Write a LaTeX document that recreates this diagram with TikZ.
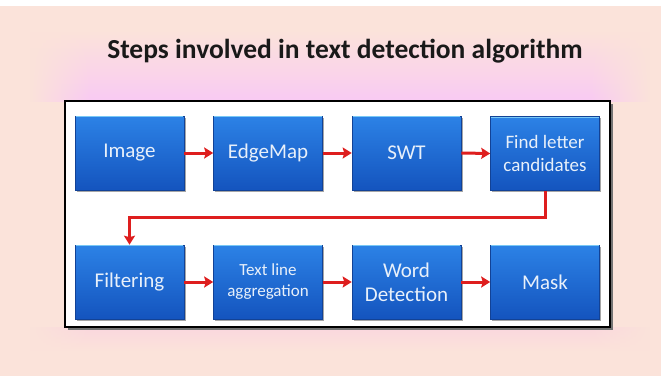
\documentclass[tikz,border=0pt]{standalone}
\usepackage{fontspec}
\setmainfont{Carlito}
\usetikzlibrary{arrows.meta,shadows,fadings}

\definecolor{peach}{RGB}{251,227,218}
\definecolor{glow}{RGB}{249,202,243}
\definecolor{lowglow}{RGB}{250,215,222}
\definecolor{boxtop}{RGB}{44,130,230}
\definecolor{boxbot}{RGB}{20,84,190}
\definecolor{boxedge}{RGB}{18,66,150}
\definecolor{boxhi}{RGB}{120,200,245}
\definecolor{arrowred}{RGB}{222,30,30}
\definecolor{boxtext}{RGB}{232,240,250}

% soft ends for the background glow
\tikzfading[name=fadein,  left color=transparent!100, right color=transparent!0]
\tikzfading[name=fadeout, left color=transparent!0,   right color=transparent!100]

\begin{document}
\begin{tikzpicture}[x=1pt,y=-1pt,
  stepbox/.style={rectangle, minimum width=109pt, minimum height=74pt,
    top color=boxtop, bottom color=boxbot, draw=boxedge, line width=0.6pt,
    text=boxtext, align=center, inner sep=2pt,
    font=\fontsize{21}{24}\selectfont,
    drop shadow={shadow xshift=1.5pt, shadow yshift=-1.5pt, fill=black, opacity=0.35}},
  smallbox/.style={stepbox, font=\fontsize{17}{21}\selectfont},
  flow/.style={draw=arrowred, line width=3pt,
    -{Stealth[length=9pt,width=11pt,inset=1.5pt]}},
  highlight/.style={draw=boxhi, line width=1.4pt},
  upglow/.style={top color=peach, bottom color=glow},
  downglow/.style={top color=lowglow, bottom color=peach}
]
\useasboundingbox (0,0) rectangle (661,376);

% page background
\fill[peach] (0,0) rectangle (661,376);
\fill[white] (0,0) rectangle (661,6);

% pink glow above the panel, in three pieces with soft ends
\shade[upglow, path fading=fadein]  (30,30) rectangle (90.5,101);
\shade[upglow]                      (90,30) rectangle (590,101);
\shade[upglow, path fading=fadeout] (589.5,30) rectangle (650,101);

% fainter glow below the panel
\shade[downglow, path fading=fadein]  (30,327) rectangle (90.5,352);
\shade[downglow]                      (90,327) rectangle (590,352);
\shade[downglow, path fading=fadeout] (589.5,327) rectangle (650,352);

% title
\node[font=\bfseries\fontsize{27.5}{30}\selectfont, text=black!90] (title) at (345,51)
  {Steps involved in text detection algorithm};

% white panel with black frame
\fill[black!55] (68,104) rectangle (613,330);
\draw[black, line width=2.4pt, fill=white] (65,101) rectangle (610,327);

% first row
\node[stepbox] (img)   at (129.5,153) {Image};
\node[stepbox] (edge)  at (268,153)   {EdgeMap};
\node[stepbox] (swt)   at (406.5,153) {SWT};
\node[stepbox, font=\fontsize{19}{23}\selectfont] (find) at (545,153.5) {Find letter\\candidates};

% second row
\node[stepbox] (filt)  at (129.5,282) {Filtering};
\node[smallbox] (agg)  at (268,282)   {Text line\\aggregation};
\node[stepbox] (word) at (406.5,282) {Word\\Detection};
\node[stepbox] (mask)  at (545,282)   {Mask};

% light edge along the top of each box
\foreach \n in {img,edge,swt,find,filt,agg,word,mask}
  \draw[highlight] ([xshift=1pt,yshift=-1pt]\n.north west) -- ([xshift=-1pt,yshift=-1pt]\n.north east);

% connectors
\draw[flow] (img.east)  -- (edge.west);
\draw[flow] (edge.east) -- (swt.west);
\draw[flow] (swt.east)  -- (find.west);

\coordinate (turn) at (546,217);
\draw[flow] (find.south) -- (find.south |- turn) -- (filt.north |- turn) -- (filt.north);

\draw[flow] (filt.east) -- (agg.west);
\draw[flow] (agg.east)  -- (word.west);
\draw[flow] (word.east) -- (mask.west);
\end{tikzpicture}
\end{document}
